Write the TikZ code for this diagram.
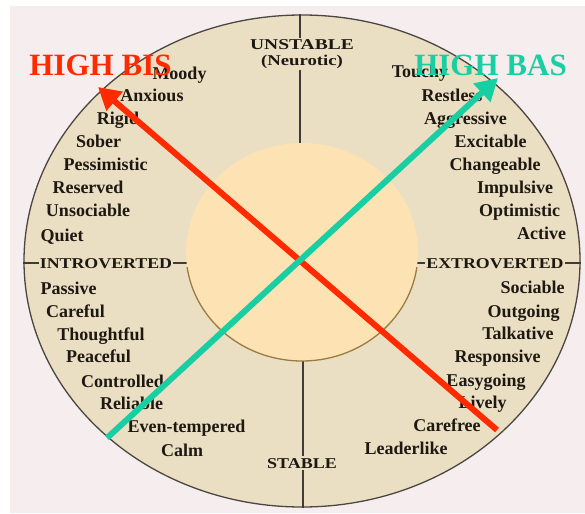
\documentclass[tikz,border=0pt]{standalone}
\usepackage{graphicx}
\usepackage{fontspec}
\setmainfont{Liberation Serif}
\usetikzlibrary{arrows.meta,shapes.geometric}
\definecolor{paper}{HTML}{F6EDEF}
\definecolor{ring}{HTML}{EBDFC3}
\definecolor{core}{HTML}{FDE2B3}
\definecolor{ink}{HTML}{1E1812}
\definecolor{bisred}{HTML}{FF2A00}
\definecolor{basteal}{HTML}{17CFA2}
\definecolor{rim}{HTML}{9C7B42}
\begin{document}
\begin{tikzpicture}[x=1pt,y=-1pt,
  word/.style={font=\fontsize{18}{20}\selectfont\bfseries, text=ink, inner sep=0pt, text height=12pt, text depth=3pt},
  axislabel/.style={font=\fontsize{15}{16}\selectfont\bfseries, text=ink, inner sep=2pt, text height=10pt, text depth=0pt},
  divider/.style={draw=ink!85, line width=1.1pt},
  bigarrow/.style={line width=6pt, -{Triangle[length=22pt,width=24pt]}},
  bigtitle/.style={font=\fontsize{31}{32}\selectfont\bfseries, inner sep=0pt}]
\useasboundingbox (0,0) rectangle (585,513);
\fill[white] (0,0) rectangle (585,513);
\fill[paper] (10,6) rectangle (585,513);
% outer ring
\node (outer) [ellipse, draw=ink!80, line width=1.3pt, fill=ring, inner sep=0pt,
  minimum width=556pt, minimum height=492pt] at (302,261) {};
% axis labels
\node (unstable) [axislabel] at (302,45) {\scalebox{1.3}[1]{UNSTABLE}};
\node (neurotic) [axislabel, text height=11pt, text depth=3pt, inner sep=1pt] at (302,62) {\scalebox{1.25}[1]{(Neurotic)}};
\node (stable) [axislabel] at (302,463) {\scalebox{1.2}[1]{STABLE}};
\node (introv) [axislabel, inner sep=1pt] at (106,263) {\scalebox{1.19}[1]{INTROVERTED}};
\node (extrov) [axislabel, inner sep=1pt] at (495,263) {\scalebox{1.19}[1]{EXTROVERTED}};
% dividing lines
\draw[divider] (outer.north -| 300,0) -- (unstable.north -| 300,0);
\draw[divider] (neurotic.south -| 300,0) -- (300,145);
\draw[divider] (303,358) -- (stable.north -| 303,0);
\draw[divider] (stable.south -| 303,0) -- (outer.south -| 303,0);
\draw[divider] (introv.west -| outer.west) -- (introv.west);
\draw[divider] (introv.east) -- (190,263);
\draw[divider] (414,263) -- (extrov.west);
\draw[divider] (extrov.east) -- (extrov.east -| outer.east);
% core
\node (coredisc) [ellipse, fill=core, inner sep=0pt, minimum width=232pt, minimum height=218pt] at (302,252) {};
\draw[rim, line width=1.3pt] (coredisc.center) ++(8:116 and 109) arc[start angle=8, end angle=172, x radius=116, y radius=109];
% left words
\node[word] (moody) at (179.5,75) {Moody};
\node[word] (anxious) at (152,97) {Anxious};
\node[word] (rigid) at (118,120) {Rigid};
\node[word] (sober) at (98.5,143) {Sober};
\node[word] (pessimistic) at (105.5,166) {Pessimistic};
\node[word] (reserved) at (88,189) {Reserved};
\node[word] (unsociable) at (88,212) {Unsociable};
\node[word] (quiet) at (62,237) {Quiet};
\node[word] (passive) at (68.5,290) {Passive};
\node[word] (careful) at (75.5,313) {Careful};
\node[word] (thoughtful) at (101,336) {Thoughtful};
\node[word] (peaceful) at (98.5,358) {Peaceful};
\node[word] (controlled) at (122.5,383) {Controlled};
\node[word] (reliable) at (131.5,405) {Reliable};
\node[word] (eventempered) at (186.5,428) {Even-tempered};
\node[word] (calm) at (182,452) {Calm};
% right words
\node[word] (touchy) at (420,73) {Touchy};
\node[word] (restless) at (452,97) {Restless};
\node[word] (aggressive) at (465.5,120) {Aggressive};
\node[word] (excitable) at (490.5,143) {Excitable};
\node[word] (changeable) at (495,166) {Changeable};
\node[word] (impulsive) at (515,189) {Impulsive};
\node[word] (optimistic) at (519.5,212) {Optimistic};
\node[word] (active) at (541.5,235) {Active};
\node[word] (sociable) at (532.5,289) {Sociable};
\node[word] (outgoing) at (523.5,313) {Outgoing};
\node[word] (talkative) at (518,335) {Talkative};
\node[word] (responsive) at (497.5,358) {Responsive};
\node[word] (easygoing) at (486,382) {Easygoing};
\node[word] (lively) at (482.5,404) {Lively};
\node[word] (carefree) at (447,427) {Carefree};
\node[word] (leaderlike) at (406,450) {Leaderlike};
% arrows
\coordinate (bisstart) at (497,430);
\coordinate (bistip) at (98,87);
\coordinate (basstart) at (107,438);
\coordinate (bastip) at (498,78);
\draw[bigarrow, bisred] (bisstart) -- (bistip);
\draw[bigarrow, basteal] (basstart) -- (bastip);
% titles
\node[bigtitle, text=bisred] (bis) at (100.5,65) {HIGH BIS};
\node[bigtitle, text=basteal] (bas) at (490.5,65) {HIGH BAS};
\end{tikzpicture}
\end{document}
